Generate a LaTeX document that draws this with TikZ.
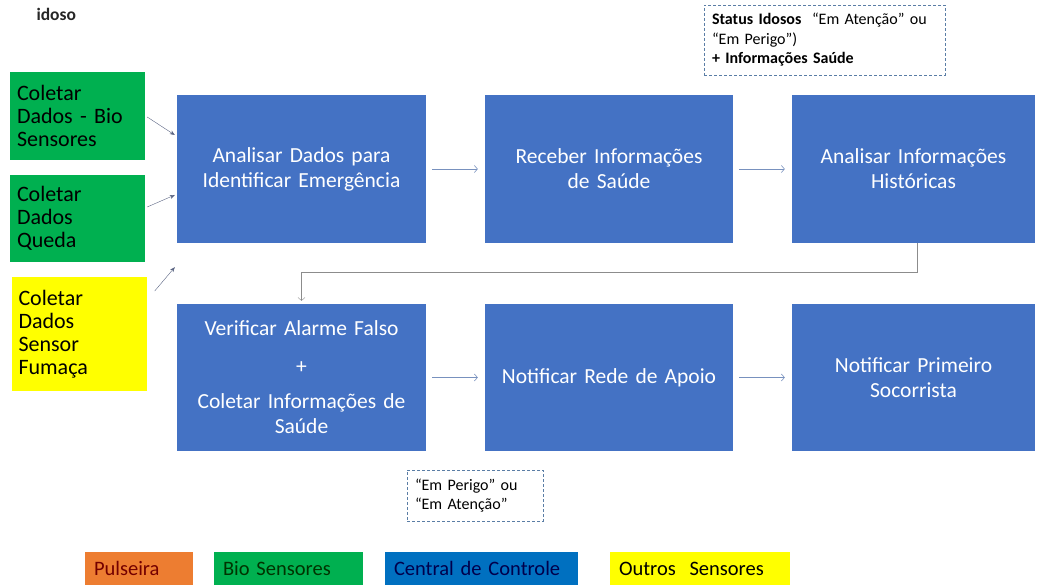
\documentclass[tikz,border=0pt]{standalone}
\usepackage{fontspec}
\usetikzlibrary{arrows.meta}
\setmainfont[WordSpace=0.8]{Carlito}
\definecolor{boxblue}{RGB}{68,114,196}
\definecolor{biogreen}{RGB}{0,176,80}
\definecolor{ctrlblue}{RGB}{0,112,192}
\definecolor{pulseorange}{RGB}{237,125,49}
\definecolor{sensoryellow}{RGB}{255,255,0}
\definecolor{arrowgray}{RGB}{90,100,130}
\definecolor{flowgray}{RGB}{120,145,190}
\definecolor{dashgray}{RGB}{90,125,165}
\tikzset{
  task/.style={fill=boxblue,text=white,align=center,text width=240pt,
    minimum height=148pt,inner sep=0pt,font=\fontsize{21.5}{25}\selectfont},
  sensor/.style={text=black,align=left,text width=121pt,inner sep=7pt,
    font=\fontsize{22}{23}\selectfont},
  note/.style={draw=dashgray,dashed,dash pattern=on 3pt off 2pt,align=left,
    inner sep=8pt,font=\fontsize{16}{19.5}\selectfont},
  legend/.style={minimum height=33pt,inner xsep=9pt,inner ysep=0pt,align=left,
    font=\fontsize{20.5}{22}\selectfont},
  flow/.style={->,flowgray,semithick,>={Straight Barb[length=3pt,width=7pt]}},
  feed/.style={->,arrowgray,thin,>={Stealth[length=5pt,width=4pt]}}
}
\begin{document}
\begin{tikzpicture}[x=1pt,y=1pt]
  \useasboundingbox (0,0) rectangle (1037,587);
  % title
  \node[anchor=west,font=\fontsize{17.5}{19}\selectfont\bfseries,text=black!85] (idoso) at (33,573) {idoso};
  % sensors
  \node[sensor,fill=biogreen,minimum height=88pt] (bio) at (77.5,471)
    {Coletar\\Dados - Bio\\Sensores};
  \node[sensor,fill=biogreen,minimum height=87pt] (queda) at (77.5,368.5)
    {Coletar\\Dados\\Queda};
  \node[sensor,fill=sensoryellow,minimum height=114pt] (fumaca) at (79,253)
    {Coletar\\Dados\\Sensor\\Fumaça};
  % central de controle
  \node[task,minimum width=249pt] (analisar) at (301.5,418)
    {Analisar Dados para\\Identificar Emergência};
  \node[task,minimum width=248pt] (receber) at (609,418)
    {Receber Informações\\de Saúde};
  \node[task,minimum width=243pt,text width=236pt] (historicas) at (913.5,418)
    {Analisar Informações\\Históricas};
  \node[task,minimum width=249pt,minimum height=147pt] (verificar) at (301.5,209.5)
    {Verificar Alarme Falso\\[13pt]+\\[10pt]Coletar Informações de\\Saúde};
  \node[task,minimum width=248pt,minimum height=147pt] (rede) at (609,209.5)
    {Notificar Rede de Apoio};
  \node[task,minimum width=243pt,minimum height=147pt,text width=236pt] (socorrista) at (913.5,209.5)
    {Notificar Primeiro\\Socorrista\\[4pt]};
  % notes
  \node[note,minimum width=241pt,minimum height=70pt,text width=225pt] (status) at (824.5,547)
    {\textbf{Status Idosos}\ \ “Em Atenção” ou\\“Em Perigo”)\\\textbf{+ Informações Saúde}};
  \node[note,minimum width=136pt,minimum height=51pt,text width=120pt] (perigo) at (475,91.5)
    {“Em Perigo” ou\\“Em Atenção”};
  % arrows
  \draw[feed] ([shift={(2,-1)}]bio.east) -- ([shift={(-2,34)}]analisar.west);
  \draw[feed] ([shift={(2,11.5)}]queda.east) -- ([shift={(-2,-26)}]analisar.west);
  \draw[feed] ([shift={(8,43)}]fumaca.east) -- ([shift={(-2,-24)}]analisar.south west);
  \draw[flow] ([xshift=6pt]analisar.east) -- ([xshift=-7pt]receber.west);
  \draw[flow] ([xshift=6pt]receber.east) -- ([xshift=-7pt]historicas.west);
  \draw[flow] ([xshift=6pt]verificar.east) -- ([xshift=-7pt]rede.west);
  \draw[flow] ([xshift=6pt]rede.east) -- ([xshift=-7pt]socorrista.west);
  \draw[flow,black!45,thin] ([xshift=3.5pt]historicas.south) -- ++(0,-29) -| ([yshift=3pt]verificar.north);
  % legend
  \node[legend,fill=pulseorange,text width=90pt,text=red!45!black] (pulseira) at (139,18.5) {Pulseira};
  \node[legend,fill=biogreen,text width=131pt,text=black!80!green] (biolegend) at (288.5,18.5) {Bio Sensores};
  \node[legend,fill=ctrlblue,text width=175pt,text=blue!30!black] (central) at (481.5,18.5) {Central de Controle};
  \node[legend,fill=sensoryellow,text width=162pt,text=black] (outros) at (700,18.5) {Outros\ \ Sensores};
\end{tikzpicture}
\end{document}
